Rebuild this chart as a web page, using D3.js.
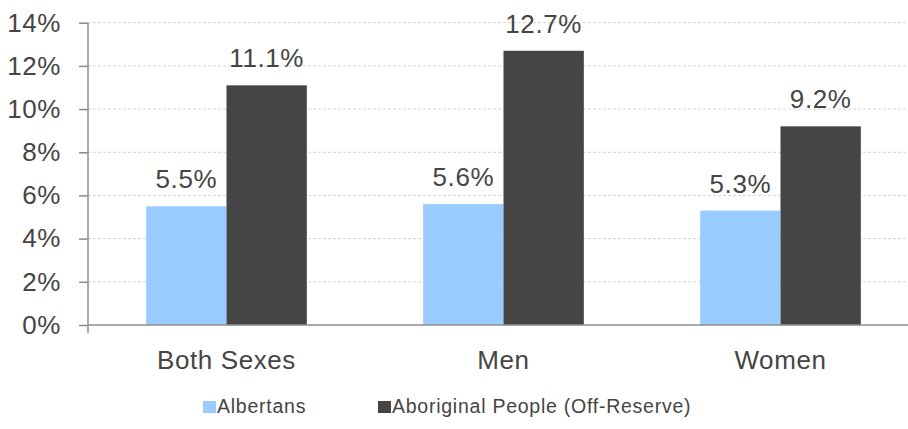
<!DOCTYPE html>
<html><head><meta charset="utf-8">
<script src="https://cdn.jsdelivr.net/npm/d3@7"></script>
<style>body{margin:0;background:#fff}svg{display:block}text{font-family:"Liberation Sans",Arial,sans-serif;fill:#454545;letter-spacing:0.6px}</style>
</head><body><svg id="c" width="908" height="429"></svg>
<script>
const categories = ["Both Sexes", "Men", "Women"];
const seriesNames = ["Albertans", "Aboriginal People (Off-Reserve)"];
const albertans = [5.5, 5.6, 5.3];
const aboriginal = [11.1, 12.7, 9.2];
const yTicks = [0, 2, 4, 6, 8, 10, 12, 14];
const colors = ["#99CCFF", "#454545"];

const svg = d3.select("#c");
const pLeft = 88, pRight = 919, pTop = 22.7, pBottom = 325;
const y = d3.scaleLinear().domain([0, 14]).range([pBottom, pTop]);
const x0 = d3.scaleBand().domain(categories).range([pLeft, pRight]).paddingInner(0.42).paddingOuter(0.21);
const x1 = d3.scaleBand().domain(seriesNames).range([0, x0.bandwidth()]);

// gridlines
svg.append("g").selectAll("line").data(yTicks.filter(d => d > 0)).join("line")
  .attr("x1", pLeft).attr("x2", 908).attr("y1", d => y(d)).attr("y2", d => y(d))
  .attr("stroke", "#d4d4d4").attr("stroke-dasharray", "3,2").attr("stroke-width", 1);

const data = categories.map((c, i) => ({c, vals: [albertans[i], aboriginal[i]]}));
const g = svg.append("g").selectAll("g").data(data).join("g")
  .attr("transform", d => `translate(${x0(d.c)},0)`);
g.selectAll("rect").data(d => d.vals.map((v, j) => ({v, s: seriesNames[j], j}))).join("rect")
  .attr("x", d => x1(d.s)).attr("width", x1.bandwidth())
  .attr("y", d => y(d.v)).attr("height", d => y(0) - y(d.v))
  .attr("fill", d => colors[d.j]);
g.selectAll("text").data(d => d.vals.map((v, j) => ({v, s: seriesNames[j]}))).join("text")
  .attr("x", d => x1(d.s) + x1.bandwidth() / 2).attr("y", d => y(d.v) - 18)
  .attr("text-anchor", "middle").attr("font-size", 26)
  .text(d => d.v.toFixed(1) + "%");

// baseline
svg.append("line").attr("x1", pLeft).attr("x2", 908).attr("y1", y(0)).attr("y2", y(0))
  .attr("stroke", "#8c8c8c").attr("stroke-width", 1.5);

// y axis
const yAxis = d3.axisLeft(y).tickValues(yTicks).tickFormat(d => d + "%").tickSize(9).tickPadding(18);
const ya = svg.append("g").attr("transform", `translate(${pLeft},0)`).call(yAxis);
ya.select(".domain").remove();
ya.selectAll(".tick line").attr("stroke", "#8c8c8c").attr("stroke-width", 1.5);
ya.selectAll(".tick text").attr("font-size", 26).attr("fill", "#454545")
  .attr("font-family", "Liberation Sans, Arial, sans-serif");
svg.append("line").attr("x1", pLeft).attr("x2", pLeft).attr("y1", pTop).attr("y2", pBottom + 8)
  .attr("stroke", "#8c8c8c").attr("stroke-width", 1.5);

// category labels
svg.append("g").selectAll("text").data(categories).join("text")
  .attr("x", d => x0(d) + x0.bandwidth() / 2).attr("y", 369)
  .attr("text-anchor", "middle").attr("font-size", 26).text(d => d);

// legend
const legX = [203, 378];
const lg = svg.append("g").selectAll("g").data(seriesNames).join("g")
  .attr("transform", (d, i) => `translate(${legX[i]},0)`);
lg.append("rect").attr("x", 0).attr("y", 401).attr("width", 13).attr("height", 12)
  .attr("fill", (d, i) => colors[i]);
lg.append("text").attr("x", 14).attr("y", 413).attr("font-size", 19.5)
  .style("letter-spacing", "0.75px").text(d => d);
</script></body></html>
